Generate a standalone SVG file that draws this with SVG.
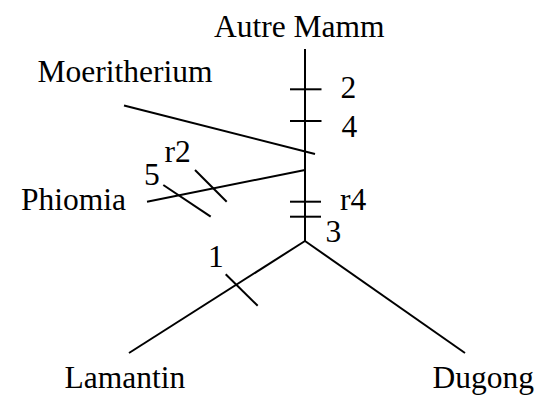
<svg xmlns="http://www.w3.org/2000/svg" width="547" height="405" viewBox="0 0 547 405">
<style>
.l{stroke:#000;stroke-width:2;fill:none;stroke-linecap:butt}
text{font-family:"Liberation Serif","Times New Roman",serif;font-size:31.5px;fill:#000}
</style>
<rect width="547" height="405" fill="#fff"/>
<g id="connectors">
<line class="l" x1="305" y1="49" x2="305" y2="241"/>
<line class="l" x1="124" y1="105.5" x2="315" y2="154"/>
<line class="l" x1="147" y1="201.7" x2="305" y2="170"/>
<line class="l" x1="305" y1="241" x2="129" y2="353"/>
<line class="l" x1="305" y1="241" x2="465" y2="353"/>
<line class="l" x1="290" y1="89.3" x2="321.5" y2="89.3"/>
<line class="l" x1="290" y1="121" x2="321.5" y2="121"/>
<line class="l" x1="290" y1="201.7" x2="321" y2="201.7"/>
<line class="l" x1="290" y1="216.7" x2="321" y2="216.7"/>
<line class="l" x1="195" y1="170" x2="226.7" y2="201.7"/>
<line class="l" x1="163.3" y1="185" x2="210.7" y2="216.7"/>
<line class="l" x1="225.7" y1="274.3" x2="257.7" y2="305.7"/>
</g>
<g id="n-autre"><text x="214" y="36.5">Autre Mamm</text></g>
<g id="n-moeritherium"><text x="37.5" y="81.7">Moeritherium</text></g>
<g id="n-phiomia"><text x="21" y="210">Phiomia</text></g>
<g id="n-lamantin"><text x="64.5" y="388.3">Lamantin</text></g>
<g id="n-dugong"><text x="432.5" y="388.3">Dugong</text></g>
<g id="labels">
<text x="340.5" y="98.3">2</text>
<text x="341.5" y="136.7">4</text>
<text x="164.5" y="161.7">r2</text>
<text x="144" y="185">5</text>
<text x="340" y="210">r4</text>
<text x="325.5" y="241.7">3</text>
<text x="208" y="266.7">1</text>
</g>
</svg>
